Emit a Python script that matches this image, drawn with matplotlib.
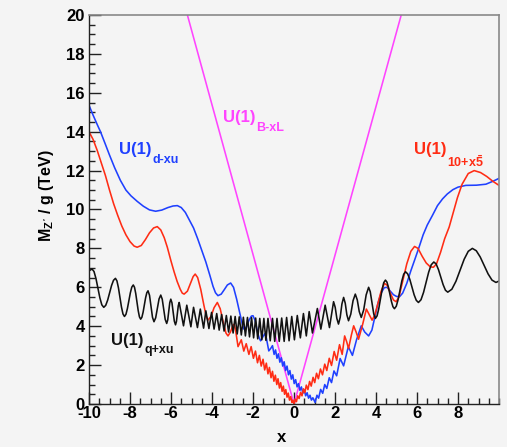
import matplotlib
matplotlib.use("Agg")
import matplotlib.pyplot as plt
from matplotlib.ticker import MultipleLocator

# U(1)_{B-xL}
bxl_x = [-5.2, 0.0, 5.23]
bxl_y = [20.0, 0.0, 20.0]

# U(1)_{d-xu}
dxu_x = [-10.0, -9.8, -9.6, -9.44, -9.2, -9.0, -8.75, -8.47, -8.2, -7.95, -7.65, -7.35, -7.05,
         -6.75, -6.45, -6.15, -5.9, -5.69, -5.5, -5.3, -5.1, -4.9, -4.7, -4.5, -4.3, -4.1,
         -3.95, -3.83, -3.71, -3.55, -3.4, -3.25, -3.09, -2.95, -2.8, -2.65, -2.52, -2.44,
         -2.32, -2.2, -2.08, -2.0, -1.9, -1.78, -1.7, -1.63, -1.52, -1.42, -1.35, -1.23,
         -1.14, -1.05, -0.97, -0.9, -0.83, -0.76, -0.69, -0.62, -0.55, -0.48, -0.41,
         -0.34, -0.27, -0.2, -0.13, -0.06, 0.01, 0.08, 0.15, 0.22, 0.29, 0.36, 0.43, 0.5,
         0.57, 0.64, 0.71, 0.78, 0.85, 0.92, 1.03, 1.12, 1.2, 1.3, 1.4, 1.5, 1.6, 1.72, 1.83,
         1.95, 2.08, 2.25, 2.42, 2.65, 2.85, 3.05, 3.28, 3.45, 3.64, 3.8, 3.95, 4.1, 4.25,
         4.4, 4.54, 4.7, 4.85, 5.0, 5.15, 5.3, 5.5, 5.7, 5.9, 6.1, 6.3, 6.5, 6.75, 7.0, 7.25,
         7.48, 7.75, 8.0, 8.38, 8.9, 9.36, 9.7, 10.0]
dxu_y = [15.36, 14.85, 14.37, 14.0, 13.35, 12.8, 12.15, 11.5, 11.0, 10.7, 10.42, 10.17, 9.98,
         9.91, 9.97, 10.1, 10.18, 10.2, 10.1, 9.85, 9.45, 9.05, 8.5, 7.9, 7.3, 6.6,
         6.05, 5.72, 5.57, 5.65, 5.88, 6.12, 6.22, 6.0, 5.4, 4.7, 4.1, 3.85,
         3.95, 4.3, 4.52, 4.54, 4.3, 3.7, 3.4, 3.25, 3.45, 3.62, 3.4, 2.73,
         2.85, 3.0, 2.55, 2.78, 2.35, 2.58, 2.15, 2.38, 1.95, 2.17, 1.72,
         1.95, 1.5, 1.72, 1.28, 1.5, 1.05, 1.25, 0.88, 1.05, 0.7, 0.88, 0.55, 0.72,
         0.42, 0.58, 0.3, 0.45, 0.2, 0.32, 0.08, 0.45, 0.3, 0.75, 0.55, 1.0, 0.8, 1.35, 1.1,
         1.7, 1.45, 2.34, 1.96, 2.95, 2.5, 3.3, 4.02, 3.7, 3.5, 3.8, 4.5, 5.2, 5.7,
         5.98, 6.0, 5.8, 5.62, 5.53, 5.52, 5.7, 6.2, 6.85, 7.45, 8.06, 8.7, 9.2, 9.69, 10.2, 10.55,
         10.8, 11.02, 11.15, 11.24, 11.25, 11.3, 11.45, 11.6]

# U(1)_{10+x5bar}
tfx_x = [-10.0, -9.8, -9.6, -9.4, -9.2, -9.0, -8.8, -8.6, -8.4, -8.2, -8.0, -7.8, -7.65,
         -7.45, -7.25, -7.05, -6.85, -6.67, -6.5, -6.33, -6.18, -6.0, -5.85, -5.7, -5.55,
         -5.45, -5.36, -5.2, -5.05, -4.92, -4.82, -4.7, -4.55, -4.4, -4.28, -4.2, -4.05,
         -3.9, -3.74, -3.6, -3.45, -3.32, -3.22, -3.1, -2.98, -2.92, -2.85, -2.73, -2.57,
         -2.45, -2.33, -2.2, -2.09, -1.98, -1.88, -1.78, -1.69, -1.6, -1.51, -1.43, -1.35,
         -1.27, -1.2, -1.12, -1.05, -0.98, -0.91, -0.84, -0.78, -0.71, -0.65, -0.58, -0.52,
         -0.46, -0.4, -0.34, -0.28, -0.22, -0.16, -0.1, -0.05, 0.0, 0.06, 0.12, 0.18, 0.25,
         0.32, 0.39, 0.46, 0.53, 0.6, 0.68, 0.76, 0.84, 0.93, 1.01, 1.1, 1.19, 1.29, 1.39,
         1.5, 1.6, 1.72, 1.83, 1.96, 2.08, 2.22, 2.35, 2.47, 2.57, 2.66, 2.8, 2.91, 3.03,
         3.15, 3.35, 3.53, 3.67, 3.81, 3.95, 4.1, 4.25, 4.41, 4.55, 4.7, 4.85, 4.98, 5.12,
         5.3, 5.5, 5.7, 5.88, 6.05, 6.25, 6.45, 6.65, 6.8, 6.95, 7.15, 7.35, 7.57, 7.97, 8.2,
         8.5, 8.79, 9.1, 9.4, 9.7, 10.0]
tfx_y = [14.0, 13.6, 13.04, 12.4, 11.75, 11.0, 10.3, 9.7, 9.15, 8.7, 8.35, 8.12, 8.06,
         8.15, 8.45, 8.8, 9.05, 9.12, 8.95, 8.55, 8.06, 7.35, 6.8, 6.3, 5.9,
         5.7, 5.65, 5.8, 6.2, 6.55, 6.68, 6.5, 5.9, 5.1, 4.5, 4.31, 4.5,
         4.95, 5.22, 4.9, 4.2, 3.65, 3.5, 3.7, 4.05, 4.1, 3.8, 2.95, 3.3,
         2.72, 3.1, 2.55, 2.95, 2.35, 2.72, 2.12, 2.5, 1.95, 2.3, 1.75, 2.1,
         1.55, 1.88, 1.35, 1.68, 1.17, 1.48, 1.0, 1.3, 0.82, 1.1, 0.65, 0.92,
         0.5, 0.74, 0.35, 0.56, 0.2, 0.38, 0.08, 0.2, 0.0, 0.25, 0.12, 0.42, 0.28,
         0.6, 0.42, 0.78, 0.58, 0.97, 0.74, 1.16, 0.92, 1.37, 1.1, 1.58, 1.3, 1.8, 1.5,
         2.05, 1.72, 2.35, 1.98, 2.7, 2.25, 3.05, 2.55, 3.5, 3.2, 2.85, 3.55, 4.02, 3.7,
         3.33, 4.1, 4.88, 4.6, 4.31, 4.6, 5.2, 5.8, 6.2, 6.1, 5.7, 5.35, 5.26, 5.5,
         6.3, 7.2, 7.85, 8.1, 8.0, 7.6, 7.25, 7.05, 7.03, 7.2, 7.8, 8.5, 9.1, 10.6, 11.3,
         11.85, 12.0, 11.9, 11.7, 11.45, 11.24]

# U(1)_{q+xu}
qxu_x = [-10.0, -9.85, -9.755, -9.66, -9.565, -9.47, -9.375, -9.28, -9.185, -9.09, -8.995,
         -8.9, -8.805, -8.71, -8.637, -8.563, -8.49, -8.417, -8.343, -8.27, -8.198, -8.127,
         -8.055, -7.983, -7.912, -7.84, -7.78, -7.72, -7.66, -7.6, -7.54, -7.48, -7.42,
         -7.36, -7.3, -7.24, -7.18, -7.12, -7.048, -6.975, -6.903, -6.83, -6.748, -6.665,
         -6.583, -6.5, -6.428, -6.355, -6.283, -6.21, -6.16, -6.11, -6.06, -6.01, -5.953,
         -5.895, -5.838, -5.78, -5.735, -5.69, -5.645, -5.6, -5.39, -5.23, -5.03, -4.9,
         -4.71, -4.57, -4.41, -4.3, -4.15, -4.02, -3.9, -3.77, -3.65, -3.53, -3.41, -3.3,
         -3.19, -3.08, -2.97, -2.87, -2.77, -2.67, -2.57, -2.47, -2.37, -2.27, -2.17, -2.07,
         -1.97, -1.87, -1.77, -1.67, -1.57, -1.47, -1.37, -1.27, -1.16, -1.05, -0.94, -0.83,
         -0.72, -0.6, -0.48, -0.36, -0.24, -0.11, 0.02, 0.16, 0.31, 0.46, 0.6, 0.74, 0.9,
         1.14, 1.31, 1.52, 1.73, 1.93, 2.01, 2.09, 2.17, 2.253, 2.337, 2.42, 2.5, 2.58, 2.66,
         2.77, 2.88, 2.99, 3.087, 3.183, 3.28, 3.4, 3.52, 3.64, 3.72, 3.805, 3.89, 3.97,
         4.052, 4.133, 4.215, 4.297, 4.378, 4.46, 4.533, 4.607, 4.68, 4.753, 4.827, 4.9,
         4.99, 5.08, 5.17, 5.26, 5.35, 5.44, 5.545, 5.65, 5.755, 5.86, 5.965, 6.07, 6.195,
         6.32, 6.445, 6.57, 6.695, 6.82, 6.933, 7.047, 7.16, 7.273, 7.387, 7.5, 7.7, 7.9,
         8.1, 8.3, 8.5, 8.7, 8.892, 9.083, 9.275, 9.467, 9.658, 9.85, 10.0]
qxu_y = [6.85, 6.94, 6.81, 6.45, 5.955, 5.46, 5.1, 4.97, 5.07, 5.34, 5.715,
         6.09, 6.36, 6.46, 6.33, 5.97, 5.48, 4.99, 4.63, 4.5, 4.61, 4.905,
         5.31, 5.715, 6.01, 6.12, 6.0, 5.68, 5.24, 4.8, 4.48, 4.36, 4.46,
         4.725, 5.09, 5.455, 5.72, 5.82, 5.59, 5.025, 4.46, 4.23, 4.43, 4.915,
         5.4, 5.6, 5.39, 4.87, 4.35, 4.14, 4.32, 4.765, 5.21, 5.39, 5.2,
         4.73, 4.26, 4.07, 4.24, 4.645, 5.05, 5.22, 4.02, 5.08, 3.97, 4.97,
         3.93, 4.88, 3.9, 4.79, 3.88, 4.71, 3.85, 4.65, 3.8, 4.6, 3.75, 4.55,
         3.7, 4.52, 3.65, 4.5, 3.6, 4.48, 3.55, 4.46, 3.5, 4.45, 3.45, 4.44,
         3.4, 4.42, 3.35, 4.4, 3.3, 4.4, 3.27, 4.4, 3.25, 4.4, 3.22, 4.4,
         3.22, 4.42, 3.22, 4.45, 3.25, 4.5, 3.3, 4.55, 3.4, 4.65, 3.5, 4.75, 3.65,
         4.91, 3.85, 5.08, 3.93, 5.26, 4.97, 4.4, 4.11, 4.45, 5.14, 5.48, 5.18, 4.58, 4.28,
         4.62, 5.31, 5.65, 5.35, 4.75, 4.45, 4.84, 5.61, 6.0, 5.77, 5.2, 4.63, 4.4,
         4.53, 4.89, 5.385, 5.88, 6.24, 6.37, 6.27, 6.0, 5.635, 5.27, 5.0, 4.9,
         5.03, 5.375, 5.85, 6.325, 6.67, 6.8, 6.69, 6.405, 6.01, 5.615, 5.33, 5.22, 5.36,
         5.74, 6.26, 6.78, 7.16, 7.3, 7.2, 6.91, 6.525, 6.14, 5.85, 5.75, 5.9, 6.31,
         6.875, 7.44, 7.85, 8.0, 7.88, 7.56, 7.125, 6.69, 6.37, 6.25, 6.32]

plt.rcParams["font.family"] = "Liberation Sans"
plt.rcParams["font.weight"] = "bold"
plt.rcParams["axes.unicode_minus"] = False
plt.rcParams["mathtext.fontset"] = "custom"
plt.rcParams["mathtext.rm"] = "Liberation Sans:bold"
plt.rcParams["mathtext.bf"] = "Liberation Sans:bold"
plt.rcParams["mathtext.it"] = "Liberation Sans:bold"
plt.rcParams["mathtext.sf"] = "Liberation Sans:bold"

bg = "#f4f4f4"
blue = "#1f40ff"
red = "#ff2c14"
magenta = "#ff44ff"
black = "#111111"

fig = plt.figure(figsize=(5.07, 4.47), dpi=100, facecolor=bg)
ax = fig.add_axes([89 / 507, 43 / 447, 410 / 507, 389 / 447], facecolor=bg)

lw = 1.15
ax.plot(bxl_x, bxl_y, color=magenta, lw=lw)
ax.plot(dxu_x, dxu_y, color=blue, lw=lw)
ax.plot(tfx_x, tfx_y, color=red, lw=lw)
ax.plot(qxu_x, qxu_y, color=black, lw=lw)

ax.set_xlim(-10, 10)
ax.set_ylim(0, 20)
ax.xaxis.set_major_locator(MultipleLocator(2))
ax.xaxis.set_minor_locator(MultipleLocator(0.5))
ax.yaxis.set_major_locator(MultipleLocator(2))
ax.yaxis.set_minor_locator(MultipleLocator(0.5))
ax.set_xticks(range(-10, 10, 2))
ax.tick_params(which="both", direction="in", top=False, right=False, width=1.0, color="#222222",
               labelsize=12)
ax.tick_params(axis="x", pad=1.5)
ax.tick_params(axis="y", pad=3)
ax.tick_params(which="major", length=8.5)
ax.tick_params(which="minor", length=4.3)

for side in ("top", "right"):
    ax.spines[side].set_color("#888888")
    ax.spines[side].set_linewidth(1.2)
for side in ("left", "bottom"):
    ax.spines[side].set_color("#222222")
    ax.spines[side].set_linewidth(1.0)

# axis titles
fig.text(282 / 507, 1 - 438 / 447, "x", fontsize=12, fontweight="bold", ha="center", va="center")
fig.text(46 / 507, 1 - 196 / 447, "M$_{Z'}$ / g (TeV)", fontsize=11.5, fontweight="bold",
         rotation=90, ha="center", va="center")


def curve_label(x, y, sub, color):
    main = ax.text(x, y, "U(1)", color=color, fontsize=12, fontweight="bold")
    ax.annotate(sub, xy=(1, 0), xycoords=main, xytext=(0.6, 2.5), textcoords="offset points",
                ha="left", va="top", color=color, fontsize=9, fontweight="bold")


curve_label(-8.53, 12.84, "d-xu", blue)
curve_label(-3.48, 14.48, "B-xL", magenta)
curve_label(5.83, 12.84, r"10+x$\bar{5}$", red)
curve_label(-8.92, 3.04, "q+xu", black)

fig.savefig("out.png", dpi=100, facecolor=bg)
